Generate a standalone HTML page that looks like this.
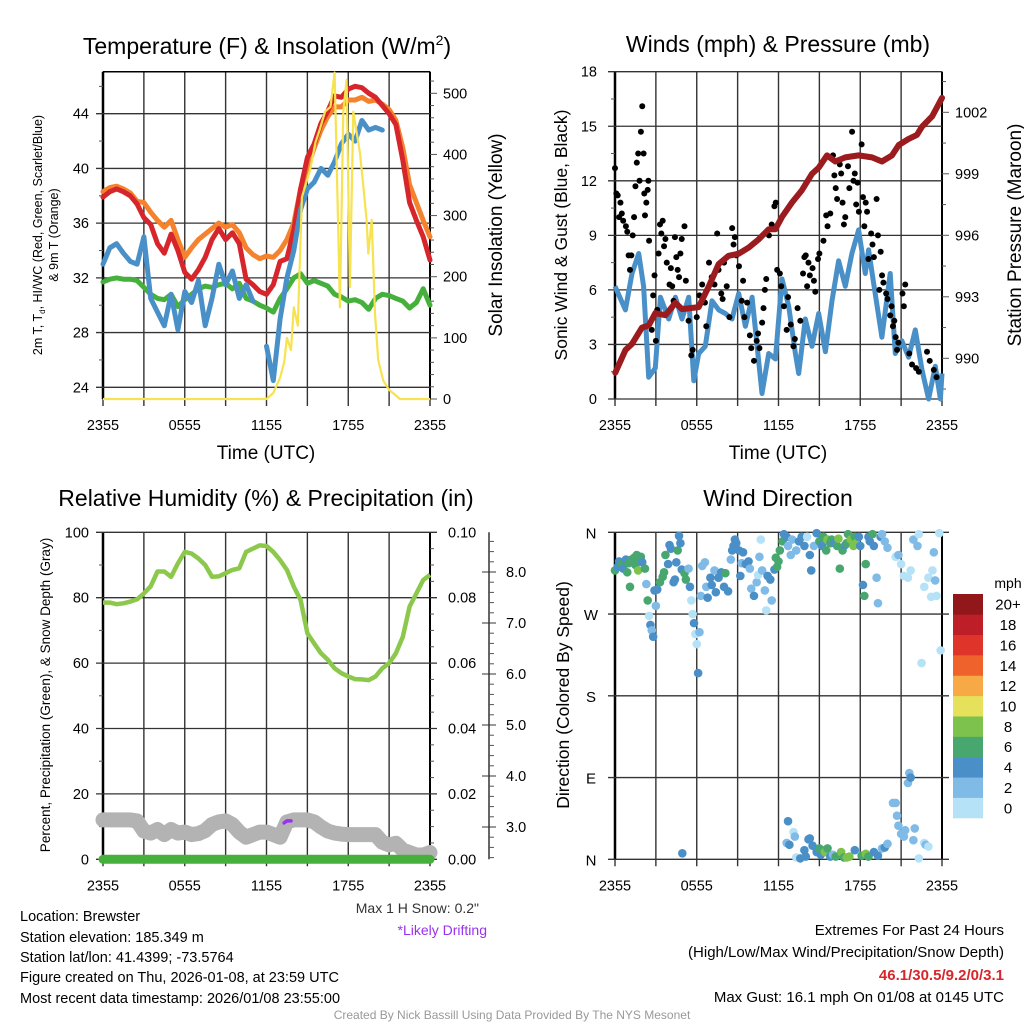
<!DOCTYPE html>
<html><head><meta charset="utf-8"><style>
body{margin:0;background:#fff;}
svg{display:block;font-family:"Liberation Sans",sans-serif;}
</style></head><body>
<svg id="c" width="1024" height="1024" viewBox="0 0 1024 1024" xmlns="http://www.w3.org/2000/svg">
<g id="base"></g>
<text x="267" y="54" font-size="23" text-anchor="middle">Temperature (F) &amp; Insolation (W/m<tspan font-size="14" dy="-9">2</tspan><tspan dy="9">)</tspan></text>
<text x="778" y="52" font-size="23" text-anchor="middle">Winds (mph) &amp; Pressure (mb)</text>
<text x="266" y="506" font-size="23" text-anchor="middle">Relative Humidity (%) &amp; Precipitation (in)</text>
<text x="778" y="506" font-size="23" text-anchor="middle">Wind Direction</text>
<text x="266" y="459" font-size="19" text-anchor="middle">Time (UTC)</text>
<text x="778" y="459" font-size="19" text-anchor="middle">Time (UTC)</text>
<text transform="translate(42,235) rotate(-90)" font-size="12.5" text-anchor="middle">2m T, T<tspan font-size="8" dy="3">d</tspan><tspan dy="-3">, HI/WC (Red, Green, Scarlet/Blue)</tspan></text>
<text transform="translate(58,235) rotate(-90)" font-size="12.5" text-anchor="middle">&amp; 9m T (Orange)</text>
<text transform="translate(502,235) rotate(-90)" font-size="19" text-anchor="middle">Solar Insolation (Yellow)</text>
<text transform="translate(567,235) rotate(-90)" font-size="17.5" text-anchor="middle">Sonic Wind &amp; Gust (Blue, Black)</text>
<text transform="translate(1021,235) rotate(-90)" font-size="19" text-anchor="middle">Station Pressure (Maroon)</text>
<text transform="translate(50,695) rotate(-90)" font-size="13.5" text-anchor="middle">Percent, Precipitation (Green), &amp; Snow Depth (Gray)</text>
<text transform="translate(569,695) rotate(-90)" font-size="17.5" text-anchor="middle">Direction (Colored By Speed)</text>
<text x="479" y="913" font-size="14" text-anchor="end" fill="#333">Max 1 H Snow: 0.2"</text>
<text x="487" y="935" font-size="14" text-anchor="end" fill="#9b30f0">*Likely Drifting</text>
<g font-size="14.5">
<text x="20" y="921">Location: Brewster</text>
<text x="20" y="942">Station elevation: 185.349 m</text>
<text x="20" y="962">Station lat/lon: 41.4399; -73.5764</text>
<text x="20" y="982">Figure created on Thu, 2026-01-08, at 23:59 UTC</text>
<text x="20" y="1003">Most recent data timestamp: 2026/01/08 23:55:00</text>
</g>
<g font-size="15" text-anchor="end">
<text x="1004" y="935">Extremes For Past 24 Hours</text>
<text x="1004" y="957">(High/Low/Max Wind/Precipitation/Snow Depth)</text>
<text x="1004" y="980" fill="#d7262b" font-weight="bold">46.1/30.5/9.2/0/3.1</text>
<text x="1004" y="1002">Max Gust: 16.1 mph On 01/08 at 0145 UTC</text>
</g>
<text x="512" y="1019" font-size="12" text-anchor="middle" fill="#999">Created By Nick Bassill Using Data Provided By The NYS Mesonet</text>
<text x="1008" y="588" font-size="14" text-anchor="middle">mph</text>
</svg>
<script>
// ---- data ----
const hrs=[0,0.5,1,1.5,2,2.5,3,3.5,4,4.5,5,5.5,6,6.5,7,7.5,8,8.5,9,9.5,10,10.5,11,11.5,12,12.5,13,13.5,14,14.5,15,15.5,16,16.5,17,17.5,18,18.5,19,19.5,20,20.5,21,21.5,22,22.5,23,23.5,24];
const xTickLabels=["2355","0555","1155","1755","2355"];
const tempRed=[37.9,38.3,38.5,38.3,38.0,37.4,36.4,35.9,34.5,33.8,35.2,34.0,32.4,31.9,32.6,33.5,34.8,35.6,34.8,35.3,34.5,31.9,31.5,31.0,30.8,31.5,33.2,33.4,35.5,38.5,40.8,41.8,43.3,44.2,45.3,45.2,45.8,46.0,45.9,45.5,45.2,44.6,44.0,43.2,40.6,37.5,36.2,35.0,33.3];
const temp9m=[38.3,38.6,38.7,38.5,38.2,37.6,37.5,36.8,36.2,35.7,36.2,34.8,33.5,34.2,34.8,35.2,35.6,36.0,35.7,35.9,35.3,34.2,33.7,33.4,33.6,33.5,34.0,34.8,36.0,38.5,40.0,41.5,42.8,43.8,44.5,44.5,45.0,45.0,45.2,44.9,45.0,44.7,44.3,43.5,41.5,38.8,37.5,36.2,35.0];
const windChill=[33.0,34.2,34.5,33.8,33.2,33.0,35.0,30.5,29.5,28.5,30.8,28.2,31.0,30.2,31.8,28.5,30.5,33.0,31.5,32.5,30.5,31.5,30.3,null,27.0,24.5,29.0,32.0,34.0,37.0,38.5,39.0,40.0,39.5,40.5,41.8,42.5,42.0,43.5,42.8,43.0,42.8,null,null,null,null,null,null,null];
const dewPoint=[31.7,31.9,32.0,31.9,31.9,31.8,31.3,30.8,30.5,30.4,30.8,29.9,30.4,30.8,31.2,31.4,31.3,31.5,31.6,31.2,31.6,30.5,30.3,30.0,29.8,29.5,30.5,31.2,32.0,32.3,31.6,31.8,31.6,31.4,30.8,30.6,30.3,30.4,30.2,29.7,30.5,30.8,30.7,30.5,30.3,29.8,30.2,31.2,30.0];
const solarT=[0,12,12.5,13,13.3,13.5,13.8,14,14.3,14.6,15,15.2,15.6,15.9,16.3,16.7,17.0,17.27,17.39,17.64,17.88,18.12,18.37,18.86,19.1,19.35,19.47,19.72,19.96,20.2,20.57,21.0,21.8,24];
const solarV=[0,0,10,35,60,100,80,150,120,330,360,375,420,440,470,478,534,272,150,470,522,183,470,402,350,293,238,293,140,64,30,15,0,0];
const presT=[0.02,0.76,1.25,1.98,2.47,2.96,3.7,4.43,4.92,6.14,6.88,7.61,8.34,9.08,9.81,10.54,11.28,11.77,12.26,12.99,13.72,14.46,14.95,15.56,16.17,16.9,17.88,18.86,19.59,20.33,20.82,21.55,22.16,22.53,23.27,24];
const presV=[989.3,990.4,990.7,991.5,991.6,992.2,992.1,992.7,992.4,992.5,993.5,994.6,995.0,995.1,995.4,995.8,996.3,996.3,996.9,997.6,998.2,999.0,999.3,999.9,999.6,999.8,999.9,999.8,999.6,999.9,1000.4,1000.7,1000.9,1001.3,1001.8,1002.7];
const spdT=[0,0.76,1.25,1.74,2.1,2.47,2.96,3.33,3.94,4.43,4.92,5.41,5.78,6.14,6.63,7.12,7.61,8.1,8.59,9.08,9.57,10.06,10.79,11.28,11.77,12.26,12.75,13.24,13.48,13.97,14.46,14.95,15.44,15.93,16.41,16.9,17.39,17.88,18.37,18.61,19.1,19.59,20.2,20.57,21.06,21.55,22.04,22.53,23.02,23.51,23.88,24];
const spdV=[6.2,4.9,6.9,8.0,6.2,1.2,1.7,5.6,4.4,5.6,4.4,5.6,1.0,2.5,2.9,5.4,4.9,4.7,4.4,5.8,4.0,5.6,0.3,2.5,2.2,6.6,5.1,2.5,1.4,4.4,2.9,4.7,2.6,5.4,7.6,6.2,8.0,9.3,6.9,8.2,5.8,3.4,6.9,2.5,3.2,2.3,3.8,1.6,0.0,1.8,0.0,1.4];
const gustT=[0,0.1,0.2,0.3,0.4,0.5,0.6,0.8,0.9,1.0,1.1,1.2,1.3,1.4,1.5,1.6,1.7,1.8,1.9,2.0,2.1,2.15,2.2,2.3,2.4,2.45,2.5,2.7,2.8,2.9,3.0,3.1,3.2,3.3,3.4,3.5,3.6,3.7,3.8,4.0,4.1,4.2,4.3,4.4,4.5,4.6,4.7,4.8,4.9,5.1,5.2,5.4,5.6,5.7,6.0,6.2,6.4,6.6,6.7,6.9,7.1,7.3,7.5,7.6,7.8,7.9,8.0,8.2,8.4,8.6,8.7,8.8,8.9,9.1,9.3,9.4,9.5,9.7,9.9,10.0,10.2,10.4,10.5,10.6,10.8,10.9,11.0,11.1,11.3,11.5,11.7,11.8,11.9,12.1,12.2,12.4,12.6,12.7,12.9,13.1,13.2,13.4,13.6,13.8,13.9,14.0,14.1,14.2,14.3,14.5,14.6,14.7,14.9,15.0,15.3,15.5,15.6,15.8,16.0,16.1,16.2,16.3,16.5,16.6,16.7,16.8,16.9,17.1,17.2,17.4,17.5,17.6,17.7,17.8,17.9,18.1,18.2,18.3,18.4,18.5,18.6,18.8,18.9,19.0,19.2,19.3,19.4,19.5,19.6,19.7,19.9,20.0,20.2,20.3,20.4,20.5,20.6,20.7,20.8,21.1,21.2,21.3,21.6,21.8,22.1,22.3,22.9,23.1,23.4,23.6];
const gustV=[12.7,11.3,11.2,10.0,10.8,10.2,9.8,9.5,9.2,7.9,7.1,7.9,9.0,10.0,11.7,13.0,13.5,12.0,14.7,16.1,13.5,11.3,10.1,10.8,11.5,12.0,8.7,3.8,5.7,6.8,3.2,4.9,8.0,9.6,9.1,9.8,8.4,8.8,7.5,6.3,7.2,6.2,5.4,8.9,7.8,7.1,6.7,8.0,8.8,9.5,6.5,4.3,2.4,2.7,4.5,5.7,6.3,5.3,4.0,7.5,6.7,6.3,9.1,7.1,5.8,5.5,7.5,6.2,4.5,9.4,8.5,8.9,7.9,7.3,5.4,6.5,4.5,5.3,3.5,2.8,2.1,3.2,3.6,2.8,4.2,5.0,6.0,6.6,9.0,9.6,10.6,10.8,7.1,6.9,6.2,5.1,3.8,5.6,4.1,2.9,3.3,5.0,4.3,6.9,7.8,7.9,6.2,7.5,6.8,7.2,6.5,5.9,7.7,8.0,8.7,10.1,9.5,10.2,13.4,12.3,11.6,11.0,12.9,12.4,10.8,9.6,10.0,12.8,11.6,14.7,12.0,12.4,10.7,11.9,10.3,14.0,11.1,9.5,10.8,10.3,7.7,9.1,8.5,7.8,11.0,9.0,6.0,8.1,6.8,6.4,5.8,5.5,4.6,5.1,4.0,4.3,3.4,2.7,3.1,5.8,5.1,6.3,2.5,1.9,1.7,1.5,2.6,2.1,1.6,1.2];
const rhV=[78.5,78.5,78.0,78.3,78.8,79.5,81.3,83.5,88.0,88.0,86.4,90.5,94.0,93.5,92.0,90.0,86.4,86.5,87.5,88.5,89.0,94.0,95.0,96.0,95.8,94.0,91.5,88.5,83.4,79.3,69.1,66.0,63.0,61.0,58.4,56.9,55.9,55.1,55.0,54.8,55.9,58.4,60.0,63.0,68.0,77.3,81.3,85.4,87.0];
const snowV=[3.14,3.14,3.14,3.14,3.14,3.12,2.92,2.88,2.95,2.85,2.95,2.88,2.9,2.85,2.87,2.93,3.05,3.1,3.12,3.05,2.9,2.8,2.85,2.9,2.9,2.85,2.8,3.1,3.14,3.14,3.14,3.1,3.0,2.92,2.88,2.86,2.85,2.85,2.85,2.85,2.85,2.7,2.65,2.68,2.55,2.5,2.45,2.45,2.5];
const precipV=[0,0,0,0,0,0,0,0,0,0,0,0,0,0,0,0,0,0,0,0,0,0,0,0,0,0,0,0,0,0,0,0,0,0,0,0,0,0,0,0,0,0,0,0,0,0,0,0,0];
const driftT=[13.3,13.5,13.8];
const driftV=[3.08,3.12,3.12];
const dirT=[0,0.2,0.3,0.5,0.6,0.8,0.9,1.0,1.1,1.2,1.4,1.5,1.6,1.7,1.8,1.9,2.0,2.2,2.3,2.4,2.5,2.6,2.7,2.8,2.9,3.0,3.1,3.3,3.5,3.6,3.7,3.9,4.0,4.1,4.3,4.4,4.5,4.6,4.7,4.8,4.9,5.1,5.2,5.4,5.5,5.6,5.7,5.8,5.9,6.0,6.1,6.2,6.3,6.4,6.6,6.7,6.8,7.0,7.1,7.3,7.4,7.6,7.8,8.0,8.1,8.3,8.5,8.6,8.7,8.8,8.9,9.1,9.2,9.3,9.4,9.6,9.8,9.9,10.0,10.2,10.4,10.5,10.6,10.7,10.8,11.0,11.1,11.2,11.4,11.5,11.7,11.8,11.9,12.0,12.1,12.3,12.4,12.6,12.7,12.9,13.0,13.3,13.5,13.7,13.9,14.1,14.3,14.4,14.6,14.8,15.0,15.2,15.3,15.5,15.6,15.8,15.9,16.1,16.3,16.4,16.5,16.7,16.9,17.0,17.1,17.3,17.5,17.6,17.7,17.9,18.0,18.2,18.3,18.4,18.6,18.7,18.9,19.0,19.2,19.3,19.5,19.6,19.8,20.0,20.6,20.8,21.0,21.2,21.5,21.7,21.9,22.2,22.3,22.5,22.7,23.0,23.2,23.3,23.5,23.6,23.8,23.9,23.4,
4.94,12.7,12.6,12.8,13.1,13.2,13.3,13.6,13.9,14.0,14.2,14.3,14.5,14.8,15.0,15.1,15.2,15.4,15.6,15.8,16.0,16.2,16.6,16.8,17.0,17.2,17.6,18.1,18.4,18.6,19.0,19.3,19.6,19.8,20.0,20.4,20.6,20.7,20.8,21.0,21.2,21.3,21.5,21.6,21.7,21.9,22.0,22.3,22.7,22.8,23.0];
const dirV=[318,322,328,325,320,330,316,326,300,330,332,324,335,318,328,333,327,320,303,285,268,258,252,245,296,279,297,305,311,316,335,325,346,342,305,308,327,340,356,348,319,315,308,320,300,285,270,260,248,237,205,250,290,323,327,300,288,310,302,318,294,310,316,300,315,295,330,340,345,352,348,340,312,326,338,325,328,320,298,290,305,313,333,352,318,296,274,312,308,285,319,332,322,328,340,350,358,355,345,335,352,340,350,355,345,355,335,318,345,359,350,345,355,340,352,348,352,348,345,353,320,340,346,348,358,352,345,355,348,355,345,302,290,325,355,350,358,345,310,282,355,358,350,343,333,335,325,312,310,318,352,345,358,216,300,310,289,318,307,290,359,230,338,
6.6,42,18,16,30,25,2,1,10,3,22,23,15,8,12,5,10,8,12,3,5,3,8,2,2,3,10,4,6,3,8,4,12,13,17,62,62,48,37,28,25,32,84,95,90,21,34,1,18,16,14];
const dirSpd=[6.5,5,4.5,6.5,4.5,5,6.5,7,6.5,6.5,7,6.5,7,8.5,6.5,7,5,6.5,3,6.5,1,4.5,3,4.5,5,3,5,6.5,6.5,6.5,6.5,5,5,5,5,4.5,5,6.5,4.5,4.5,5,6.5,6.5,3,4.5,1,1,4.5,1,1,4.5,3,3,3,3,3,5,4.5,4.5,3,4.5,5,4.5,4.5,6.5,5,3,5,5,5,4.5,5,4.5,3,5,4.5,5,3,3,4.5,3,1,3,1,3,3,1,4.5,4.5,3,4.5,6.5,6.5,6.5,6.5,6.5,4.5,4.5,3,3,3,3,4.5,4.5,4.5,1,4.5,4.5,3,4.5,6.5,4.5,6.5,6.5,8.5,6.5,6.5,5,6.5,8,6.5,6.5,4.5,6.5,6.5,8.5,8.5,7,8.5,5,4.5,4.5,6.5,6.5,5,4.5,6.5,4.5,3,3,4.5,3,3,3,1,3,1,1,1,1,3,3,1,1,1,1,1,1,3,1,1,1,3,
4.5,4.5,3,4.5,1,3,1,4.5,4.5,4.5,4.5,4.5,4.5,4.5,6.5,4.5,6.5,8,6.5,4.5,3,6.5,8,6.5,8,8,4.5,6.5,8,6.5,4.5,4.5,3,4.5,3,3,3,3,3,3,3,3,3,3,4.5,3,3,1,1,3,1];
const cbLabels=["0","2","4","6","8","10","12","14","16","18","20+"];
const cbColors=["#b6e2f8","#7fbbe6","#4a8fc7","#48a66f","#7cc24c","#e6e15a","#f6a944","#f0622c","#de3429","#bd1e27","#92171b"];

// ---- helpers ----
const NS="http://www.w3.org/2000/svg";
const svg=document.getElementById('c');
const base=document.getElementById('base');
function mk(tag,attrs,parent){const e=document.createElementNS(NS,tag);for(const k in attrs)e.setAttribute(k,attrs[k]);(parent||base).appendChild(e);return e;}
const PW=327, TOP1=71.7, BOT1=399, TOP2=532.3, BOT2=859.3;
function xs(x0){return t=>x0+t*PW/24;}
function lin(d0,d1,p0,p1){return v=>p0+(v-d0)*(p1-p0)/(d1-d0);}
function pathD(ts,vs,fx,fy){let d='',pen=false;for(let i=0;i<ts.length;i++){if(vs[i]==null){pen=false;continue;}d+=(pen?'L':'M')+fx(ts[i]).toFixed(1)+' '+fy(vs[i]).toFixed(1);pen=true;}return d;}
function txt(x,y,s,size,anchor,parent){const e=mk('text',{x:x,y:y,'font-size':size,'text-anchor':anchor||'middle'},parent);e.textContent=s;return e;}

function frame(x0,top,bot,name){
  const g=mk('g',{});
  
  
  for(let h=0;h<=24;h+=3){const x=x0+h*PW/24;mk('line',{x1:x,y1:top,x2:x,y2:bot+7,stroke:'#333','stroke-width':1.4},g);
    const lab=(h%6==0)?xTickLabels[h/6]:null;
    if(lab){txt(x,bot+31,lab,14.5,'middle',g);}
  }
  mk('line',{x1:x0,y1:top,x2:x0,y2:bot,stroke:'#000','stroke-width':2.5},g);
  mk('line',{x1:x0+PW,y1:top,x2:x0+PW,y2:bot,stroke:'#000','stroke-width':2},g);
  return g;
}
function hgrid(g,x0,y,major,left,right){mk('line',{x1:x0-(left?7:0),y1:y,x2:x0+PW+(right?7:0),y2:y,stroke:'#333','stroke-width':1.3},g);}
function ltick(g,x,y,len){mk('line',{x1:x-len,y1:y,x2:x,y2:y,stroke:'#555','stroke-width':1},g);}
function rtick(g,x,y,len){mk('line',{x1:x,y1:y,x2:x+len,y2:y,stroke:'#555','stroke-width':1},g);}

// ===== Panel 1: temperature =====
(function(){
  const X=xs(103), Y=lin(24,44,387.3,113.7), YS=lin(0,500,399,93.3);
  const g=frame(103,TOP1,BOT1,'temp');
  mk('line',{x1:103,y1:TOP1,x2:430,y2:TOP1,stroke:'#000','stroke-width':1.5},g);
  for(let v=24;v<=44;v+=4){hgrid(g,103,Y(v),true,true,false);txt(89,Y(v)+5,String(v),14.5,'end',g);}
  for(let v=22;v<=47;v+=2){if(v%4&&Y(v)<BOT1&&Y(v)>TOP1)ltick(g,103,Y(v),4);}
  for(let v=0;v<=500;v+=100){rtick(g,430,YS(v),7);txt(443,YS(v)+5,String(v),14.5,'start',g);}
  for(let v=20;v<=530;v+=20){if(v%100)rtick(g,430,YS(v),4);}
  const series=[[temp9m,'#f5822d','temp-9m-line'],[tempRed,'#d7262b','temp-2m-line'],[dewPoint,'#45b03c','dewpoint-line'],[windChill,'#4a90c8','windchill-line']];
  const order=[series[2],series[0],series[1],series[3]];
  for(const s of order){const p=mk('path',{d:pathD(hrs,s[0],X,Y),fill:'none',stroke:s[1],'stroke-width':5,'stroke-linejoin':'round','stroke-linecap':'round'});
    
    }
  const sp=mk('path',{d:pathD(solarT,solarV,X,YS),fill:'none',stroke:'#f7e24f','stroke-width':2.2,'stroke-linejoin':'round'});
  
  
})();

// ===== Panel 2: winds =====
(function(){
  const X=xs(615), Y=lin(0,18,399,71.7), YP=lin(990,1002,358.3,112.3);
  const g=frame(615,TOP1,BOT1,'wind');
  for(let v=0;v<=18;v+=3){hgrid(g,615,Y(v),true,true,false);txt(597,Y(v)+5,String(v),14.5,'end',g);}
  for(let v=1.5;v<18;v+=3){ltick(g,615,Y(v),4);}
  for(let v=990;v<=1002;v+=3){rtick(g,942,YP(v),7);txt(955,YP(v)+5,String(v),14.5,'start',g);}
  for(let v=988.5;v<=1004;v+=1.5){if((v-990)%3)rtick(g,942,YP(v),4);}
  const sp=mk('path',{d:pathD(spdT,spdV,X,Y),fill:'none',stroke:'#4a90c8','stroke-width':5,'stroke-linejoin':'round'});
  
  
  const gg=mk('g',{fill:'#000'});
  
  
  for(let i=0;i<gustT.length;i++){const c=mk('circle',{cx:X(gustT[i]),cy:Y(gustV[i]),r:3},gg);
    
    }
  const pp=mk('path',{d:pathD(presT,presV,X,YP),fill:'none',stroke:'#9b1b1e','stroke-width':6,'stroke-linejoin':'round','stroke-linecap':'round'});
  
  
})();

// ===== Panel 3: RH =====
(function(){
  const X=xs(103), Y=lin(0,100,859.3,532.3), YPr=lin(0,0.1,859.3,532.3), YSn=lin(3,8,827,572);
  const g=frame(103,TOP2,BOT2,'rh');
  for(let v=0;v<=100;v+=20){hgrid(g,103,Y(v),true,true,true);txt(89,Y(v)+5,String(v),14.5,'end',g);
    txt(448,Y(v)+5,(v/1000).toFixed(2),14.5,'start',g);}
  for(let v=10;v<100;v+=20){ltick(g,103,Y(v),4);}
  for(let v=0.005;v<0.1;v+=0.005){if(Math.round(v*1000)%20)rtick(g,430,YPr(v),4);}
  mk('line',{x1:489,y1:TOP2,x2:489,y2:BOT2,stroke:'#333','stroke-width':1.5},g);
  for(let v=3;v<=8;v++){mk('line',{x1:482,y1:YSn(v),x2:496,y2:YSn(v),stroke:'#333','stroke-width':1},g);txt(506,YSn(v)+5,v.toFixed(1),14.5,'start',g);}
  for(let v=2.4;v<8.8;v+=0.2){if(Math.abs(v-Math.round(v))>0.05)rtick(g,489,YSn(v),5);}
  const sn=mk('path',{d:pathD(hrs,snowV,X,YSn),fill:'none',stroke:'#b3b3b3','stroke-width':15,'stroke-linejoin':'round','stroke-linecap':'round'});
  
  
  const dr=mk('path',{d:pathD(driftT,driftV,X,YSn),fill:'none',stroke:'#9b30f0','stroke-width':3.5,'stroke-linecap':'round'});
  
  
  const pr=mk('path',{d:pathD(hrs,precipV,X,YPr),fill:'none',stroke:'#45b03c','stroke-width':9,'stroke-linecap':'round'});
  
  
  const rh=mk('path',{d:pathD(hrs,rhV,X,Y),fill:'none',stroke:'#8cc84b','stroke-width':4.5,'stroke-linejoin':'round'});
  
  
})();

// ===== Panel 4: wind direction =====
(function(){
  const X=xs(615), Y=lin(0,360,859.3,532.3);
  const g=frame(615,TOP2,BOT2,'winddir');
  const labs=['N','E','S','W','N'];
  for(let i=0;i<5;i++){const v=i*90;hgrid(g,615,Y(v),true,true,true);txt(591,Y(v)+6,labs[i],15,'middle',g);}
  function col(s){let k=Math.floor(s/2);if(k>10)k=10;if(k<0)k=0;return cbColors[k];}
  const pg=mk('g',{});
  
  
  for(let i=0;i<dirT.length;i++){const c=mk('circle',{cx:X(dirT[i]),cy:Y(dirV[i]),r:4.3,fill:col(dirSpd[i])},pg);
    
    }
  const cb=mk('g',{});
  
  
  const h=(818-594)/cbColors.length;
  for(let i=0;i<cbColors.length;i++){const y=818-(i+1)*h;mk('rect',{x:953,y:y,width:30,height:h+0.3,fill:cbColors[i]},cb);
    txt(1008,y+h/2+5.5,cbLabels[i],15,'middle',cb);}
})();
</script>
</body></html>
